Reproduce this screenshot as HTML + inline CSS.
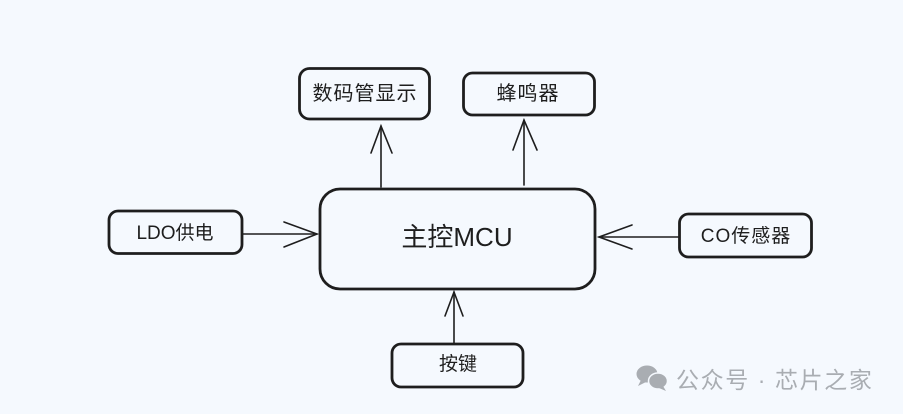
<!DOCTYPE html>
<html><head><meta charset="utf-8"><style>
html,body{margin:0;padding:0;background:#f5f9fe;}
svg{display:block;}
text{font-family:"Liberation Sans","Noto Sans CJK SC",sans-serif;fill:#1e1e1e;}
</style></head><body>
<svg width="903" height="414" viewBox="0 0 903 414" xmlns="http://www.w3.org/2000/svg">
<rect width="903" height="414" fill="#f5f9fe"/>
<g fill="none" stroke="#1e1e1e" stroke-width="2.8" stroke-linejoin="round">
<rect x="320" y="189" width="275" height="100" rx="20"/>
<rect x="299.5" y="68.5" width="130" height="50.5" rx="10"/>
<rect x="463.5" y="73" width="131" height="42" rx="9"/>
<rect x="109" y="211" width="133" height="42.5" rx="9"/>
<rect x="679.5" y="214" width="132" height="43" rx="9"/>
<rect x="392" y="344" width="131" height="43" rx="9"/>
</g>
<g fill="none" stroke="#1e1e1e" stroke-width="1.6" stroke-linecap="round">
<line x1="381" y1="187" x2="381" y2="126"/>
<polyline points="371,153 381,126 392,153"/>
<line x1="524" y1="185" x2="524" y2="120"/>
<polyline points="513,150 524,120 537,150"/>
<line x1="242" y1="234" x2="317" y2="234"/>
<polyline points="284,222 317,234 284,247"/>
<line x1="679" y1="237" x2="599" y2="237"/>
<polyline points="632,225 599,237 632,249"/>
<line x1="454" y1="343" x2="454" y2="292"/>
<polyline points="445,316 454,292 463,316"/>
</g>
<text x="457" y="246" font-size="26" text-anchor="middle">主控MCU</text>
<text x="365" y="100" font-size="20" text-anchor="middle" letter-spacing="1">数码管显示</text>
<text x="528" y="100" font-size="20" text-anchor="middle" letter-spacing="1">蜂鸣器</text>
<text x="175" y="239" font-size="19" text-anchor="middle">LDO供电</text>
<text x="746" y="242" font-size="19" text-anchor="middle" letter-spacing="1">CO传感器</text>
<text x="458" y="370" font-size="19" text-anchor="middle">按键</text>
<g fill="#a9adb2">
<ellipse cx="647" cy="374" rx="10.5" ry="8.5"/>
<polygon points="641,380 638,386 646,382"/>
<ellipse cx="658" cy="381" rx="9.5" ry="8" stroke="#f5f9fe" stroke-width="1.5"/>
<polygon points="663,386 666,391 659,388"/>
</g>
<text x="676" y="388" font-size="23" fill="#a9adb2" style="fill:#a9adb2" letter-spacing="1.6">公众号 · 芯片之家</text>
</svg>
</body></html>
